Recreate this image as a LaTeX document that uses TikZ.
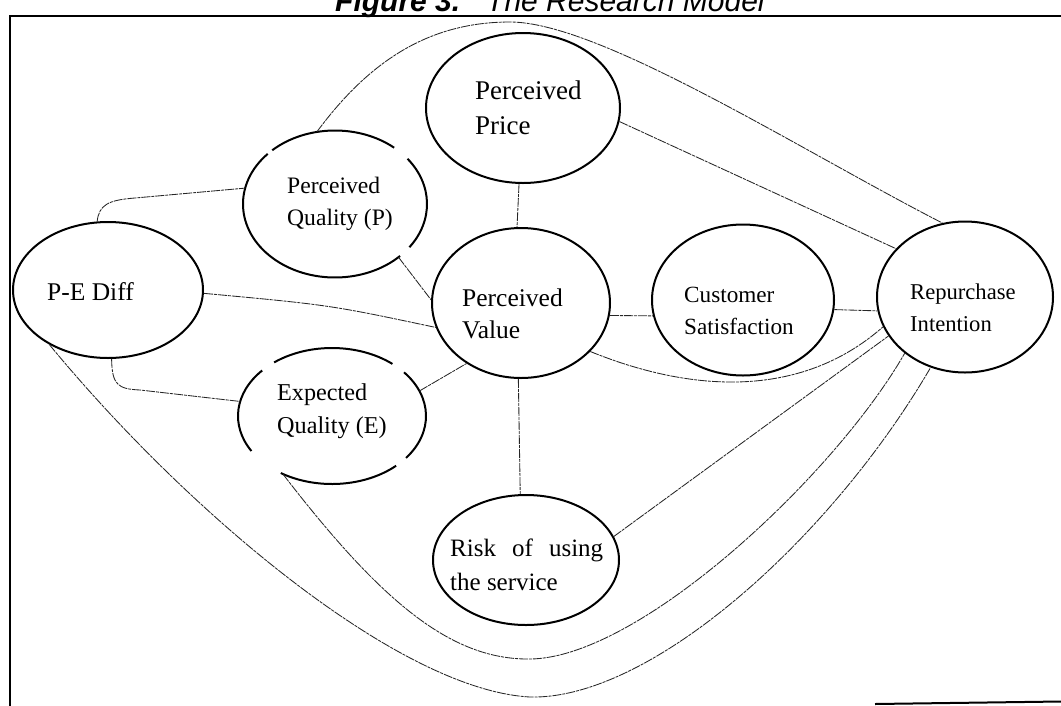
\documentclass[tikz,border=0pt]{standalone}
\usepackage{fontspec}
\setmainfont{Liberation Serif}
\newfontfamily\titlefont{Liberation Sans}
\usetikzlibrary{shapes.geometric}

\begin{document}
\begin{tikzpicture}[x=1pt,y=-1pt,
  oval/.style={ellipse, draw, line width=2pt, inner sep=0pt},
  openoval/.style={ellipse, inner sep=0pt},
  rim/.style={line width=2pt},
  lbl/.style={anchor=west, inner sep=0pt, align=left},
  link/.style={line width=0.85pt, black!85, dash pattern=on 9pt off 1pt on 3pt off 1pt},
  frame/.style={line width=2pt}]
\useasboundingbox (0,0) rectangle (1061,705);

% frame and caption
\draw[frame] (1061,15.5) -- (9.5,15.5) -- (9.5,706);
\draw[frame] (875,704) -- (1061,701.5);
\node[anchor=base west, inner sep=0pt, font=\titlefont\fontsize{30}{36}\selectfont\itshape] (title) at (335,11.5)
  {\bfseries Figure 3.\mdseries\hspace{26pt}The Research Model};

% constructs
\node[oval, minimum width=190pt, minimum height=136pt] (pe) at (108,290) {};
\node[openoval, minimum width=184pt, minimum height=147pt] (pq) at (335,204) {};
\node[oval, minimum width=194pt, minimum height=150pt] (pp) at (523,108) {};
\node[oval, minimum width=178pt, minimum height=150pt] (pv) at (521,303) {};
\node[oval, minimum width=182pt, minimum height=151pt] (cs) at (743,300) {};
\node[oval, minimum width=176pt, minimum height=151pt] (ri) at (965,297) {};
\node[openoval, minimum width=188pt, minimum height=136pt] (eq) at (332,416) {};
\node[oval, minimum width=186pt, minimum height=130pt] (rk) at (526,560) {};

% broken outlines
\foreach \s/\e in {36/-38, -50/-133, -137/-315}
  \draw[rim] ([shift={(\s:92 and 73.5)}]pq.center) arc[start angle=\s, end angle=\e, x radius=92, y radius=73.5];
\foreach \s/\e in {38/-40, -50/-128, -138/-211, -237/-313}
  \draw[rim] ([shift={(\s:94 and 68)}]eq.center) arc[start angle=\s, end angle=\e, x radius=94, y radius=68];

% labels
\node[lbl, font=\fontsize{25.5}{32}\selectfont] (pe-t) at (47,292) {P-E Diff};
\node[lbl, font=\fontsize{23.6}{32}\selectfont] (pq-t) at (287,204) {Perceived\\Quality (P)};
\node[lbl, font=\fontsize{27}{35}\selectfont] (pp-t) at (475,108) {Perceived\\Price};
\node[lbl, font=\fontsize{25.5}{32}\selectfont] (pv-t) at (462,314) {Perceived\\Value};
\node[lbl, font=\fontsize{23.2}{32}\selectfont] (cs-t) at (684,311) {Customer\\Satisfaction};
\node[lbl, font=\fontsize{22.6}{32}\selectfont] (ri-t) at (910,308) {Repurchase\\Intention};
\node[lbl, font=\fontsize{24.2}{33}\selectfont] (eq-t) at (277,411) {Expected\\Quality (E)};
\node[lbl, font=\fontsize{25}{34}\selectfont] (rk-t) at (450,565) {\makebox[153pt][s]{Risk of using}\\the service};

% relationships
\draw[link] (pq.104) .. controls (370,60) and (430,22) .. (510,22) .. controls (600,22) and (800,150) .. (ri.107);
\draw[link] (pp.-8) -- (ri.145);
\draw[link] (pp.-93) -- (pv.93);
\draw[link] (pe.99) .. controls (99,205) and (108,200) .. (135,198) -- (pq.170);
\draw[link] (pq.-40) -- (pv.178);
\draw[link] (pe.-2) .. controls (330,305) .. (pv.196);
\draw[link] (pe.-87) .. controls (112,385) and (118,389) .. (140,390) -- (eq.171);
\draw[link] (eq.16) -- (pv.228);
\draw[link] (pv.-8) -- (cs.190);
\draw[link] (cs.-6) -- (ri.189);
\draw[link] (pv.-35) .. controls (690,392) and (800,400) .. (ri.200);
\draw[link] (rk.15) -- (ri.207);
\draw[link] (pv.-92) -- (rk.95);
\draw[link] (eq.230) .. controls (380,600) and (450,660) .. (530,659) .. controls (640,658) and (835,475) .. (ri.223);
\draw[link] (pe.223) .. controls (190,515) and (400,690) .. (530,697) .. controls (650,700) and (830,540) .. (ri.244);
\end{tikzpicture}
\end{document}
